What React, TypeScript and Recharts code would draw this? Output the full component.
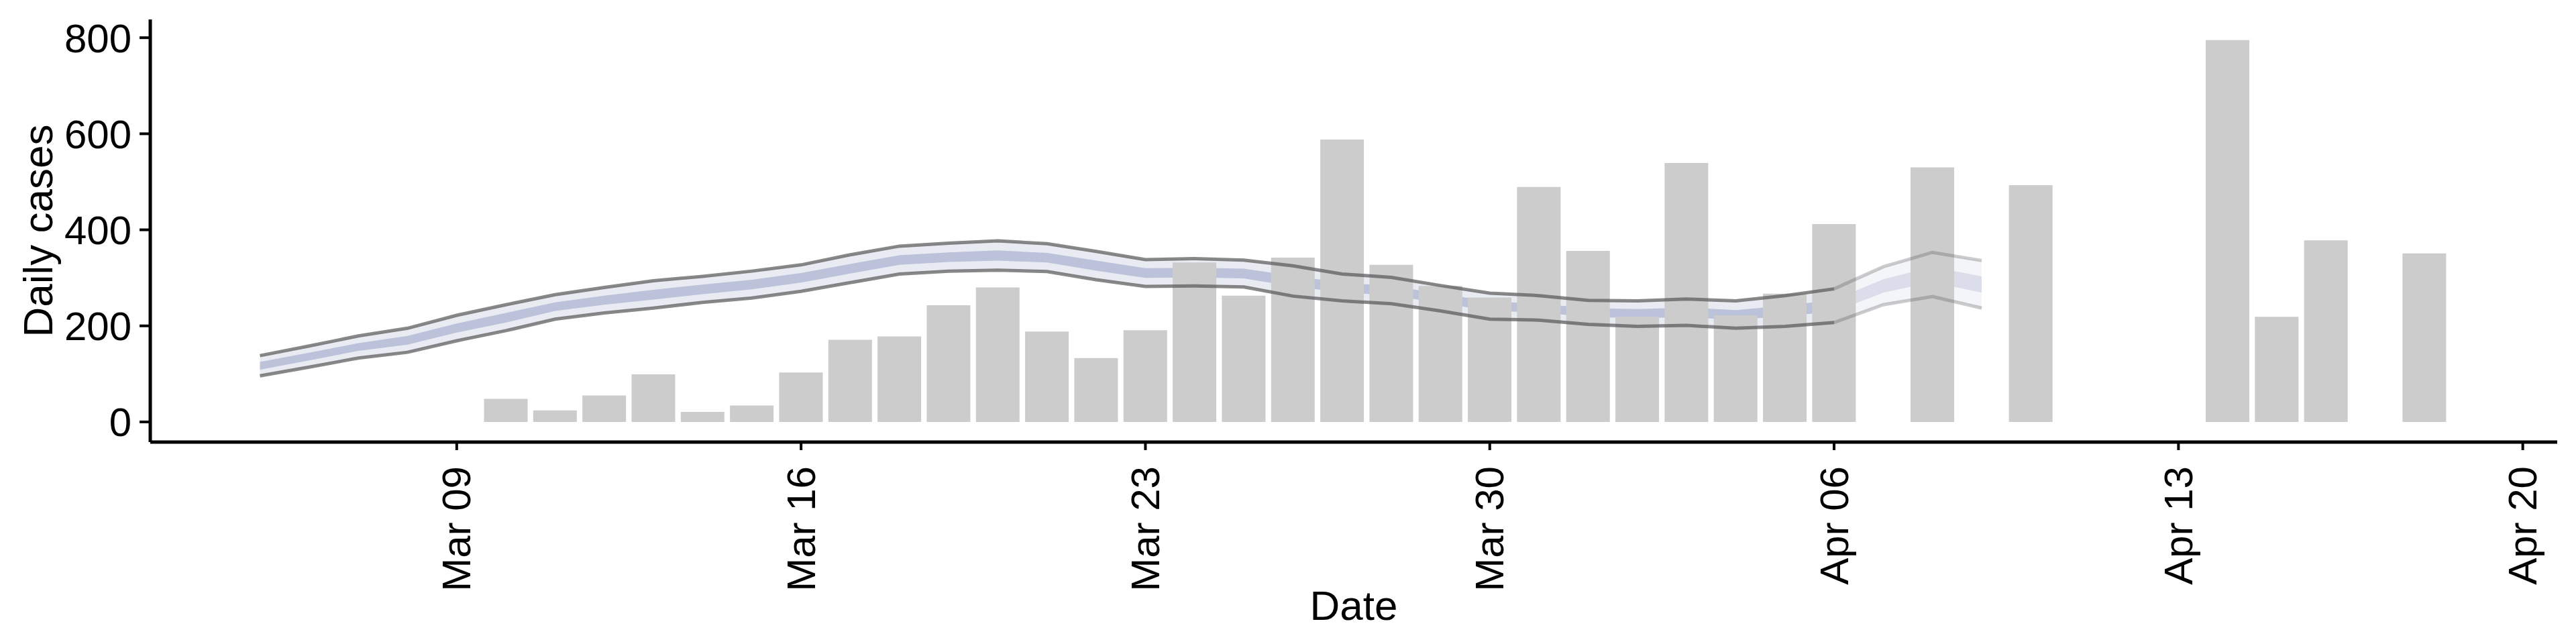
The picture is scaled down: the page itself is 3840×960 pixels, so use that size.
import React from "react";
import { ComposedChart, Bar, Area, Line, XAxis, YAxis, Label } from "recharts";

if (typeof document !== "undefined") document.body.style.margin = "0";

// day numbers: Mar 1 = 1, Apr 1 = 32
const barDays = [10,11,12,13,14,15,16,17,18,19,20,21,22,23,24,25,26,27,28,29,30,31,32,33,34,35,36,37,39,41,45,46,47,49];
const barCases = [48,24,55,99,21,34,103,171,178,243,280,188,133,191,332,263,342,588,327,283,259,489,356,219,539,222,267,412,530,493,795,219,378,351];

const bandDays = [5,6,7,8,9,10,11,12,13,14,15,16,17,18,19,20,21,22,23,24,25,26,27,28,29,30,31,32,33,34,35,36,37,38,39,40];
const upper = [138,158,179,195,222,244,265,280,294,303,314,327,348,366,372,377,371,355,338,340,337,325,308,301,284,268,263,253,252,256,252,263,277,323,353,336];
const lower = [96,114,133,145,169,190,214,227,237,249,258,272,290,308,314,316,313,296,282,283,281,262,252,246,231,214,212,203,199,201,195,199,207,244,261,237];
const innerUp = [125,144,164,179,205,227,249,263,275,286,296,310,329,347,353,357,352,336,320,321,319,304,290,283,267,251,246,237,235,238,233,242,254,297,323,303];
const innerLo = [109,128,148,161,186,207,231,244,255,266,276,290,309,327,333,336,332,315,300,301,299,282,270,263,248,231,228,219,216,218,213,220,230,269,291,269];
const tailStart = 37; // Apr 06: band becomes fainter after this

const tickDays = [9,16,23,30,37,44,51];
const tickLabels = ["Mar 09","Mar 16","Mar 23","Mar 30","Apr 06","Apr 13","Apr 20"];
const yTicks = [0,200,400,600,800];

const allDays = Array.from(new Set([...bandDays, ...barDays])).sort((a, b) => a - b);
const data = allDays.map((d) => {
  const row: any = { day: d };
  const bi = barDays.indexOf(d);
  if (bi >= 0) row.cases = barCases[bi];
  const i = bandDays.indexOf(d);
  if (i >= 0) {
    if (d <= tailStart) {
      row.outer = [lower[i], upper[i]];
      row.inner = [innerLo[i], innerUp[i]];
      row.up = upper[i];
      row.lo = lower[i];
    }
    if (d >= tailStart) {
      row.outerT = [lower[i], upper[i]];
      row.innerT = [innerLo[i], innerUp[i]];
      row.upT = upper[i];
      row.loT = lower[i];
    }
  }
  return row;
});

const font = "Liberation Sans, Arial, sans-serif";

const XTick = (props: any) => {
  const { x, y, payload } = props;
  const idx = tickDays.indexOf(payload.value);
  return (
    <text x={x} y={y + 22} transform={`rotate(-90 ${x} ${y + 22})`} textAnchor="end" dominantBaseline="central" fontSize={60} fontFamily={font} fill="#000">
      {tickLabels[idx]}
    </text>
  );
};

const YTitle = (props: any) => {
  const vb = props.viewBox || {};
  const cy = (vb.y ?? 29) + (vb.height ?? 630) / 2;
  return (
    <text x={56} y={cy} transform={`rotate(-90 56 ${cy})`} textAnchor="middle" dominantBaseline="central" fontSize={62} fontFamily={font} fill="#000">
      Daily cases
    </text>
  );
};

export default function App() {
  const lineProps = { type: "linear" as const, dot: false, isAnimationActive: false, strokeWidth: 5, connectNulls: false };
  return (
    <ComposedChart width={3840} height={960} data={data} margin={{ top: 29, right: 28, bottom: 0, left: 0 }}>
      <XAxis dataKey="day" type="number" domain={[2.77, 51.7]} ticks={tickDays} allowDataOverflow
        height={301} tick={<XTick />} tickLine={{ stroke: "#000", strokeWidth: 4 }} tickSize={12}
        axisLine={{ stroke: "#000", strokeWidth: 5 }} interval={0}>
        <Label value="Date" position="insideBottom" offset={36} fontSize={62} fontFamily={font} fill="#000" />
      </XAxis>
      <YAxis type="number" domain={[-42, 838]} ticks={yTicks} allowDataOverflow width={224}
        tick={{ fontSize: 60, fontFamily: font, fill: "#000" }} tickSize={16} tickMargin={12}
        tickLine={{ stroke: "#000", strokeWidth: 4 }} axisLine={{ stroke: "#000", strokeWidth: 5 }}>
        <Label content={<YTitle />} />
      </YAxis>
      <Bar dataKey="cases" fill="#cccccc" barSize={65} isAnimationActive={false} />
      <Area dataKey="outer" type="linear" fill="#b8c0d8" fillOpacity={0.32} stroke="none" isAnimationActive={false} />
      <Area dataKey="inner" type="linear" fill="#8e99bf" fillOpacity={0.5} stroke="none" isAnimationActive={false} />
      <Line dataKey="up" stroke="#555" strokeOpacity={0.7} {...lineProps} />
      <Line dataKey="lo" stroke="#555" strokeOpacity={0.7} {...lineProps} />
      <Area dataKey="outerT" type="linear" fill="#b8c0d8" fillOpacity={0.16} stroke="none" isAnimationActive={false} />
      <Area dataKey="innerT" type="linear" fill="#8e99bf" fillOpacity={0.25} stroke="none" isAnimationActive={false} />
      <Line dataKey="upT" stroke="#555" strokeOpacity={0.3} {...lineProps} />
      <Line dataKey="loT" stroke="#555" strokeOpacity={0.3} {...lineProps} />
    </ComposedChart>
  );
}
